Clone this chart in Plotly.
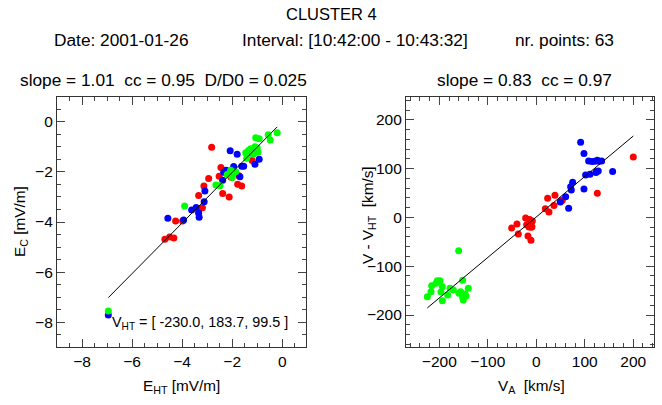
import plotly.graph_objects as go

W, H = 662, 405
FONT = "Liberation Sans, Arial, sans-serif"

# ---------------- Left panel data: E_HT vs E_C ----------------
left_green_x = [-0.20, -0.56, -0.48, -1.06, -0.92, -1.09, -1.26, -0.97, -1.46, -1.42,
                -2.06, -1.86, -2.00, -2.65, -2.49, -3.90, -6.95, -1.00, -1.35, -1.15, -2.20]
left_green_y = [-0.44, -0.52, -0.73, -0.64, -0.68, -1.00, -1.08, -1.22, -1.24, -1.46,
                -1.93, -1.99, -2.22, -2.52, -2.55, -3.36, -7.55, -1.05, -1.15, -1.30, -2.10]
left_red_x = [-2.82, -1.20, -2.45, -2.52, -2.02, -1.73, -2.94, -3.13, -1.78, -1.62,
              -2.38, -2.12, -3.34, -3.19, -3.34, -4.26, -3.98, -4.69, -4.50, -4.33, -2.05]
left_red_y = [-1.02, -1.54, -1.82, -2.17, -2.21, -2.15, -2.26, -2.56, -2.49, -2.56,
              -2.86, -3.00, -2.94, -3.43, -3.57, -3.96, -3.96, -4.69, -4.60, -4.64, -2.20]
left_blue_x = [-2.08, -1.80, -0.92, -1.09, -1.20, -1.94, -1.62, -1.54, -2.24, -2.34,
               -1.69, -2.38, -3.09, -3.12, -3.44, -3.62, -3.32, -3.34, -4.57, -3.94, -6.95]
left_blue_y = [-1.16, -1.30, -1.50, -1.69, -1.26, -1.78, -1.77, -1.77, -1.93, -2.01,
               -2.19, -2.33, -2.76, -3.19, -3.42, -3.52, -3.81, -3.65, -3.85, -3.92, -7.71]
left_slope, left_intercept = 1.01, 0.0

# ---------------- Right panel data: V_A vs V - V_HT ----------------
right_green_x = [-224.7, -217.2, -215.8, -204.1, -198.6, -206.9, -193.8, -196.6, -193.8, -182.8,
                 -178.0, -171.1, -160.1, -151.9, -159.5, -151.9, -147.1, -140.2, -150.5, -156.0, -145.0]
right_green_y = [-162.4, -152.1, -139.8, -129.6, -129.6, -135.0, -141.9, -152.8, -170.6, -159.0,
                 -145.3, -148.7, -68.0, -128.9, -155.6, -163.8, -157.0, -145.3, -169.2, -152.1, -161.0]
right_red_x = [200.0, 125.8, 38.5, 23.4, 36.4, 53.6, 18.6, 26.1, -22.0, -13.7,
               -8.2, -19.9, -9.0, -50.9, -39.9, -15.1, -10.3, -37.1, -17.2, -11.0, 50.5]
right_red_y = [124.1, 49.6, 45.5, 39.3, 24.3, 35.2, 18.1, 11.3, -1.0, -4.4,
               -7.2, -14.7, -18.8, -21.5, -13.3, -19.5, -20.2, -33.8, -38.0, -46.8, 33.0]
right_blue_x = [91.4, 98.3, 107.9, 114.8, 121.0, 125.8, 129.2, 134.7, 101.7, 110.7,
                123.0, 127.8, 157.4, 98.3, 74.9, 70.8, 72.2, 60.5, 49.5, 66.7, 124.4]
right_blue_y = [154.2, 130.9, 115.9, 114.5, 115.2, 117.3, 115.2, 115.9, 87.2, 88.5,
                92.0, 95.4, 94.0, 58.5, 72.1, 63.2, 56.4, 42.7, 31.8, 18.8, 94.0]
right_slope, right_intercept = 0.83, 1.0

# ---------------- Text ----------------
title_main = "CLUSTER 4"
title_date = "Date: 2001-01-26"
title_interval = "Interval: [10:42:00 - 10:43:32]"
title_npts = "nr. points: 63"
left_stats = "slope = 1.01  cc = 0.95  D/D0 = 0.025"
right_stats = "slope = 0.83  cc = 0.97"
vht_text = "V<sub>HT</sub> = [ -230.0, 183.7, 99.5 ]"

left_xticks = [-8, -6, -4, -2, 0]
left_yticks = [0, -2, -4, -6, -8]
right_ticks = [-200, -100, 0, 100, 200]

def px_x(p):
    return p / W

def px_y(p):
    return 1 - p / H

fig = go.Figure()
mk = 7
colors = {"red": "#ff0000", "green": "#00ff00", "blue": "#0000ff"}

for xs, ys, c in [(left_red_x, left_red_y, "red"), (left_blue_x, left_blue_y, "blue"),
                  (left_green_x, left_green_y, "green")]:
    fig.add_trace(go.Scatter(x=xs, y=ys, mode="markers", xaxis="x", yaxis="y",
                             marker=dict(color=colors[c], size=mk, line=dict(width=0)),
                             showlegend=False, hoverinfo="skip"))
allx = left_red_x + left_blue_x + left_green_x
lx = [min(allx), max(allx)]
fig.add_trace(go.Scatter(x=lx, y=[left_slope * v + left_intercept for v in lx], mode="lines",
                         xaxis="x", yaxis="y", line=dict(color="black", width=1),
                         showlegend=False, hoverinfo="skip"))

for xs, ys, c in [(right_red_x, right_red_y, "red"), (right_blue_x, right_blue_y, "blue"),
                  (right_green_x, right_green_y, "green")]:
    fig.add_trace(go.Scatter(x=xs, y=ys, mode="markers", xaxis="x2", yaxis="y2",
                             marker=dict(color=colors[c], size=mk, line=dict(width=0)),
                             showlegend=False, hoverinfo="skip"))
allx2 = right_red_x + right_blue_x + right_green_x
rx = [min(allx2), max(allx2)]
fig.add_trace(go.Scatter(x=rx, y=[right_slope * v + right_intercept for v in rx], mode="lines",
                         xaxis="x2", yaxis="y2", line=dict(color="black", width=1),
                         showlegend=False, hoverinfo="skip"))

tickfont = dict(family=FONT, size=15.5, color="black")

def axis(domain, rng, tickvals, minor_dtick, anchor):
    return dict(domain=domain, range=rng, anchor=anchor, tickvals=tickvals,
                ticks="inside", ticklen=8, tickwidth=1, tickcolor="#444",
                showline=True, linecolor="#333", linewidth=1.2, mirror="allticks",
                showgrid=False, zeroline=False, tickfont=tickfont,
                minor=dict(ticks="inside", ticklen=4, dtick=minor_dtick, tickcolor="#444",
                           showgrid=False, tick0=0),
                fixedrange=True)

fig.update_layout(
    width=W, height=H, margin=dict(l=0, r=0, t=0, b=0),
    paper_bgcolor="white", plot_bgcolor="white",
    xaxis=axis([px_x(57), px_x(306)], [-9.0, 0.95], left_xticks, 0.5, "y"),
    yaxis=axis([px_y(347), px_y(97)], [-8.99, 0.99], left_yticks, 0.5, "x"),
    xaxis2=axis([px_x(406), px_x(654)], [-268.7, 242.7], right_ticks, 20, "y2"),
    yaxis2=axis([px_y(347), px_y(97)], [-265.6, 247.0], right_ticks, 20, "x2"),
)

def ann(text, x, y, size, xanchor="center", angle=0):
    fig.add_annotation(text=text, x=px_x(x), y=px_y(y), xref="paper", yref="paper",
                       xanchor=xanchor, yanchor="middle", showarrow=False, textangle=angle,
                       font=dict(family=FONT, size=size, color="black"))

ann(title_main, 331, 14, 16.5)
ann(title_date, 52, 40, 17.3, "left")
ann(title_interval, 240, 40, 17.3, "left")
ann(title_npts, 513, 40, 17.3, "left")
ann(left_stats, 18, 80, 17.3, "left")
ann(right_stats, 435, 80, 17.3, "left")
ann("E<sub>HT</sub> [mV/m]", 181, 386, 15.3)
ann("V<sub>A</sub>  [km/s]", 531, 386, 15.3)
ann("E<sub>C</sub> [mV/m]", 20, 222, 15.3, angle=-90)
ann("V - V<sub>HT</sub>  [km/s]", 368, 215, 15.3, angle=-90)
ann(vht_text, 110, 323, 14.4, "left")

fig.write_html("out.html")
